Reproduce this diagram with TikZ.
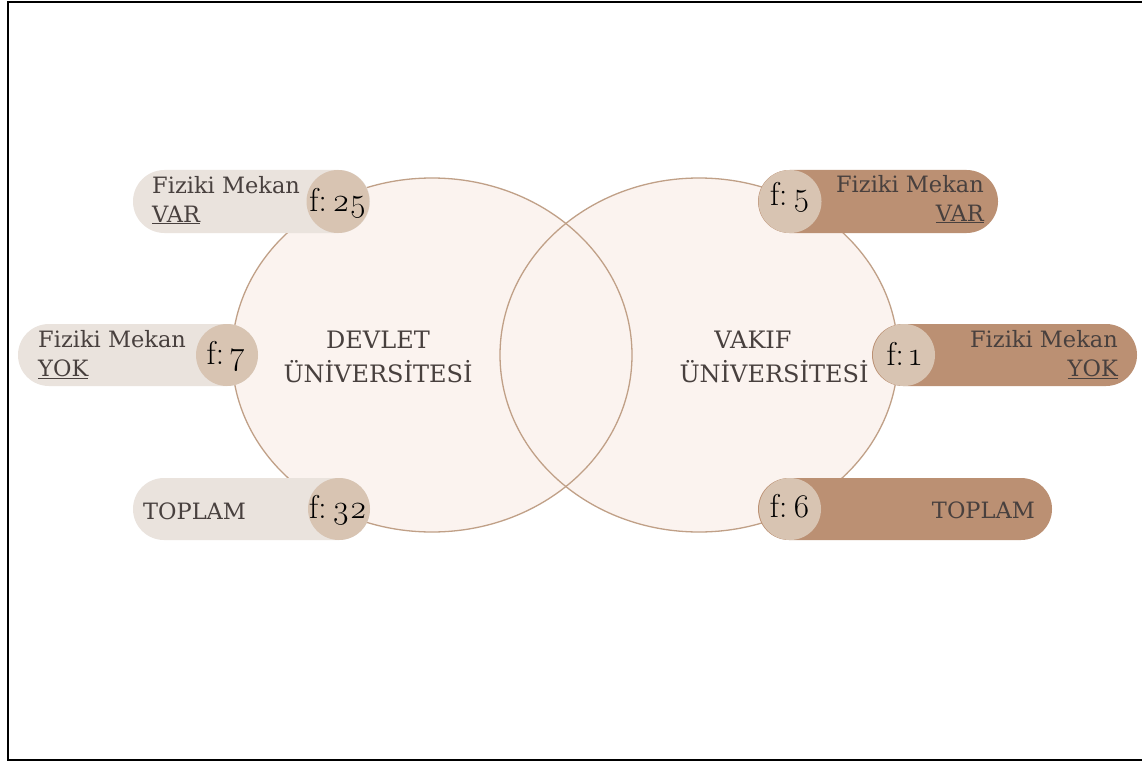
\documentclass[tikz,border=0pt]{standalone}
\usepackage{fontspec}
\setmainfont{DejaVu Serif}
\newfontfamily\numfont{Latin Modern Roman}
\definecolor{ellfill}{RGB}{251,243,239}
\definecolor{ellline}{RGB}{192,160,135}
\definecolor{pilllight}{RGB}{234,227,221}
\definecolor{pillcircle}{RGB}{216,196,178}
\definecolor{pilldark}{RGB}{187,144,115}
\definecolor{txtgray}{RGB}{72,64,62}
\tikzset{
  ell/.style={fill=ellfill},
  ellstroke/.style={draw=ellline, line width=1.3pt},
  lbl/.style={text=txtgray, font=\fontsize{22.5}{24}\selectfont, inner sep=0pt},
  flbl/.style={text=black, font=\numfont\fontsize{33}{35}\selectfont, inner sep=0pt},
  ctr/.style={text=txtgray, font=\fontsize{24}{30}\selectfont, inner sep=0pt, align=center},
}
\newcommand{\fnum}[1]{f:\,\oldstylenums{#1}}
\begin{document}
\begin{tikzpicture}[x=1pt,y=-1pt]
\useasboundingbox (0,0) rectangle (1142,762);
\fill[white] (0,0) rectangle (1142,762);
% frame
\draw[black, line width=2pt] (1142,2) -- (8,2) -- (8,760) -- (1142,760);
% ellipses
\fill[ell] (432,355) ellipse [x radius=200, y radius=177];
\fill[ell] (699,355) ellipse [x radius=199, y radius=177];
\draw[ellstroke] (432,355) ellipse [x radius=200, y radius=177];
\draw[ellstroke] (699,355) ellipse [x radius=199, y radius=177];
\node[ctr] (dev1) at (378,340) {DEVLET};
\node[ctr] (dev2) at (378,372) {ÜNİVERSİTESİ};
\node[ctr] (vak1) at (753,340) {VAKIF};
\node[ctr] (vak2) at (774,372) {ÜNİVERSİTESİ};
% left pills
\fill[pilllight, rounded corners=31.5pt] (133,170) rectangle (370,233);
\fill[pillcircle] (338,201.5) circle (31.5);
\fill[pilllight, rounded corners=31pt] (18,324) rectangle (258,386);
\fill[pillcircle] (227,355) circle (31);
\fill[pilllight, rounded corners=31pt] (133,478) rectangle (370,540);
\fill[pillcircle] (339,509) circle (31);
% right pills
\fill[pilldark, rounded corners=31.5pt] (758,170) rectangle (998,233);
\fill[pillcircle] (790,201.5) circle (31.5);
\fill[pilldark, rounded corners=31pt] (872,324) rectangle (1137,386);
\fill[pillcircle] (904,355) circle (31);
\fill[pilldark, rounded corners=31pt] (758,478) rectangle (1052,540);
\fill[pillcircle] (790,509) circle (31);
% left texts
\node[lbl, anchor=west] (l1a) at (152,185) {Fiziki Mekan};
\node[lbl, anchor=west] (l1b) at (152,215) {\underline{VAR}};
\node[flbl] (l1f) at (338,203) {\fnum{25}};
\node[lbl, anchor=west] (l2a) at (38,339) {Fiziki Mekan};
\node[lbl, anchor=west] (l2b) at (38,369) {\underline{YOK}};
\node[flbl] (l2f) at (226,356) {\fnum{7}};
\node[lbl, anchor=west] (l3a) at (143,511) {TOPLAM};
\node[flbl] (l3f) at (338,510) {\fnum{32}};
% right texts
\node[lbl, anchor=east] (r1a) at (984,184) {Fiziki Mekan};
\node[lbl, anchor=east] (r1b) at (984,214) {\underline{VAR}};
\node[flbl] (r1f) at (790,197) {\fnum{5}};
\node[lbl, anchor=east] (r2a) at (1118,339) {Fiziki Mekan};
\node[lbl, anchor=east] (r2b) at (1118,369) {\underline{YOK}};
\node[flbl] (r2f) at (904,354) {\fnum{1}};
\node[lbl, anchor=east] (r3a) at (1035,510) {TOPLAM};
\node[flbl] (r3f) at (790,506) {\fnum{6}};
\end{tikzpicture}
\end{document}
